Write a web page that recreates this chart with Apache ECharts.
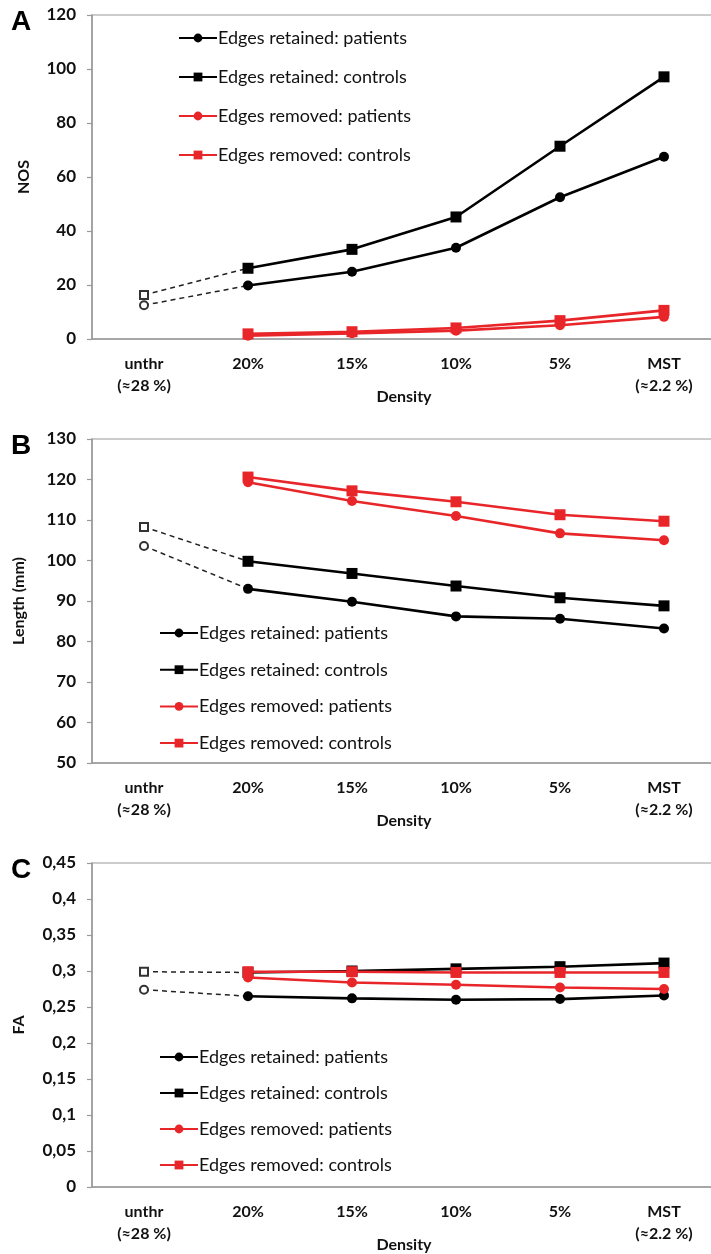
<!DOCTYPE html>
<html>
<head>
<meta charset="utf-8">
<script src="https://cdn.jsdelivr.net/npm/echarts@6/dist/echarts.min.js"></script>
<style>
  html, body { margin: 0; padding: 0; background: #fff; }
  #chart { width: 711px; height: 1254px; }
</style>
</head>
<body>
<div id="chart"></div>
<script>
// Density thresholds on the x axis (shared by all three panels)
const densityLabels = ['unthr\n(≈28 %)', '20%', '15%', '10%', '5%', 'MST\n(≈2.2 %)'];
const seriesNames = ['Edges retained: patients', 'Edges retained: controls', 'Edges removed: patients', 'Edges removed: controls'];

// Panel A: number of streamlines (NOS)
const nosRetainedPatients = [12.5, 19.8, 24.9, 33.8, 52.5, 67.5];
const nosRetainedControls = [16.3, 26.2, 33.2, 45.2, 71.4, 97.1];
const nosRemovedPatients  = [null, 1.2, 2.1, 3.1, 5.1, 8.2];
const nosRemovedControls  = [null, 1.9, 2.7, 4.1, 6.8, 10.6];
const nosTicks = [0, 20, 40, 60, 80, 100, 120];

// Panel B: streamline length (mm)
const lenRetainedPatients = [103.6, 93.0, 89.8, 86.2, 85.6, 83.2];
const lenRetainedControls = [108.3, 99.8, 96.8, 93.7, 90.8, 88.8];
const lenRemovedPatients  = [null, 119.3, 114.7, 111.0, 106.7, 105.0];
const lenRemovedControls  = [null, 120.6, 117.2, 114.5, 111.3, 109.7];
const lenTicks = [50, 60, 70, 80, 90, 100, 110, 120, 130];

// Panel C: fractional anisotropy (FA)
const faRetainedPatients = [0.274, 0.265, 0.262, 0.260, 0.261, 0.266];
const faRetainedControls = [0.299, 0.298, 0.300, 0.303, 0.306, 0.311];
const faRemovedPatients  = [null, 0.291, 0.284, 0.281, 0.277, 0.275];
const faRemovedControls  = [null, 0.299, 0.299, 0.298, 0.298, 0.298];
const faTicks = [0, 0.05, 0.1, 0.15, 0.2, 0.25, 0.3, 0.35, 0.4, 0.45];

const BLACK = '#000000';
const RED = '#e8262a';
const AXIS_GREY = '#9a9a9a';
const FONT = 'Lato';

const panels = [
  { letter: 'A', top: 15, yName: 'NOS', nameGap: 60, ticks: nosTicks, dec: false,
    data: [nosRetainedPatients, nosRetainedControls, nosRemovedPatients, nosRemovedControls],
    legendLeft: 173, legendTop: 24, legendGap: 21 },
  { letter: 'B', top: 439, yName: 'Length (mm)', nameGap: 65, ticks: lenTicks, dec: false,
    data: [lenRetainedPatients, lenRetainedControls, lenRemovedPatients, lenRemovedControls],
    legendLeft: 154, legendTop: 619, legendGap: 18.7 },
  { letter: 'C', top: 863, yName: 'FA', nameGap: 65, ticks: faTicks, dec: true,
    data: [faRetainedPatients, faRetainedControls, faRemovedPatients, faRemovedControls],
    legendLeft: 154, legendTop: 1043, legendGap: 18 }
];

const PLOT_H = 324;
const grids = [], xAxes = [], yAxes = [], series = [], legends = [], titles = [];

panels.forEach((p, k) => {
  grids.push({ left: 92, top: p.top, width: 624, height: PLOT_H, outerBoundsMode: 'none',
    show: true, borderColor: AXIS_GREY, borderWidth: 1.2, backgroundColor: 'transparent' });

  xAxes.push({
    type: 'category', gridIndex: k, data: densityLabels, boundaryGap: true,
    name: 'Density', nameLocation: 'middle', nameGap: 50, nameMoveOverlap: false,
    nameTextStyle: { fontFamily: FONT, fontWeight: 'bold', fontSize: 16, color: '#111' },
    axisLine: { lineStyle: { color: AXIS_GREY, width: 1.5 } },
    axisTick: { alignWithLabel: true, length: 5, lineStyle: { color: AXIS_GREY, width: 1.2 } },
    axisLabel: { margin: 14, fontFamily: FONT, fontWeight: 'bold', fontSize: 16, color: '#111', lineHeight: 22, interval: 0 },
    splitLine: { show: false }
  });

  const t = p.ticks;
  yAxes.push({
    type: 'value', gridIndex: k, min: t[0], max: t[t.length - 1], interval: t[1] - t[0],
    name: p.yName, nameLocation: 'middle', nameRotate: 90, nameGap: p.nameGap, nameMoveOverlap: false,
    nameTextStyle: { fontFamily: FONT, fontWeight: 'bold', fontSize: 16, color: '#111' },
    axisLine: { show: true, lineStyle: { color: AXIS_GREY, width: 1.5 } },
    axisTick: { show: true, length: 5, lineStyle: { color: AXIS_GREY, width: 1.2 } },
    axisLabel: { margin: 16, fontFamily: FONT, fontWeight: 'bold', fontSize: 17, color: '#111',
      formatter: v => p.dec ? String(+v.toFixed(2)).replace('.', ',') : String(v) },
    splitLine: { show: false }
  });

  const styles = [
    { color: BLACK, symbol: 'circle', size: 10 },
    { color: BLACK, symbol: 'rect', size: 11 },
    { color: RED, symbol: 'circle', size: 10 },
    { color: RED, symbol: 'rect', size: 11 }
  ];

  // dashed links from the unthresholded value to the 20% value (retained edges only)
  [1, 0].forEach(i => {
    const src = p.data[i];
    const hollow = i === 0 ? 'emptyCircle' : 'emptyRect';
    series.push({
      name: 'unthr ' + i, type: 'line', xAxisIndex: k, yAxisIndex: k,
      data: src.map((v, j) => j === 0 ? { value: v, symbol: hollow, symbolSize: 8 }
                            : j === 1 ? { value: v, symbol: 'none' } : '-'),
      showSymbol: true, showAllSymbol: true,
      lineStyle: { color: '#222', width: 1.5, type: [5, 4] },
      itemStyle: { color: '#333', borderColor: '#333', borderWidth: 1 },
      silent: true, z: 1, animation: false
    });
  });

  p.data.forEach((src, i) => {
    const s = styles[i];
    series.push({
      name: seriesNames[i], type: 'line', xAxisIndex: k, yAxisIndex: k,
      data: src.map((v, j) => (j === 0 || v === null) ? '-' : v),
      symbol: s.symbol, symbolSize: s.size,
      lineStyle: { color: s.color, width: 2.6 },
      itemStyle: { color: s.color },
      z: 2 + i, animation: false
    });
  });

  legends.push({
    data: seriesNames, orient: 'vertical', left: p.legendLeft, top: p.legendTop,
    itemWidth: 38, itemHeight: 11, itemGap: p.legendGap,
    textStyle: { fontFamily: FONT, fontSize: 18, color: '#111', padding: [0, 0, 0, -4] },
    selectedMode: false
  });

  titles.push({ text: p.letter, left: 6, top: p.top - 12,
    textStyle: { fontFamily: 'Liberation Sans', fontWeight: 'bold', fontSize: 28, color: '#000' } });
});

const chart = echarts.init(document.getElementById('chart'), null, { renderer: 'canvas' });
chart.setOption({
  backgroundColor: '#fff',
  animation: false,
  title: titles,
  grid: grids,
  xAxis: xAxes,
  yAxis: yAxes,
  legend: legends,
  series: series
});
</script>
</body>
</html>
